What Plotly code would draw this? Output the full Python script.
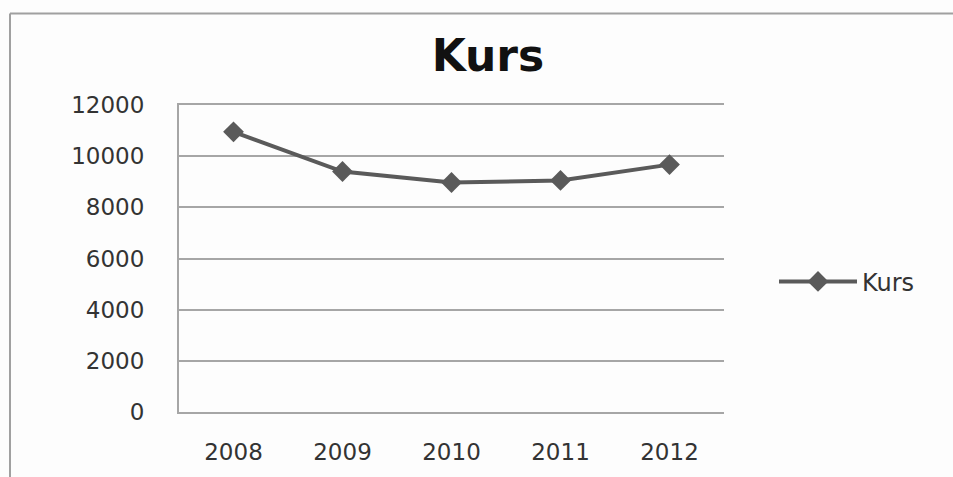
import plotly.graph_objects as go

years = ["2008", "2009", "2010", "2011", "2012"]
kurs = [10950, 9400, 8970, 9050, 9670]
y_ticks = [0, 2000, 4000, 6000, 8000, 10000, 12000]
y_labels = ["0", "2000", "4000", "6000", "8000", "10000", "12000"]

W, H = 953, 477
L, R, T, B = 179, 229, 105, 63
pw, ph = W - L - R, H - T - B

def px_x(x):
    return (x - L) / pw

def px_y(y):
    return (H - B - y) / ph

line_col = "#5a5a5a"
grid_col = "#a6a6a6"
text_col = "#333333"

fig = go.Figure()
fig.add_trace(go.Scatter(
    x=years, y=kurs, name="Kurs", mode="lines+markers",
    line=dict(color=line_col, width=4),
    marker=dict(symbol="diamond", size=16, color=line_col),
))

# outer chart frame (left and top edges)
frame = dict(type="line", xref="paper", yref="paper",
             line=dict(color="#a0a0a0", width=2))
fig.add_shape(**frame, x0=px_x(10), x1=px_x(10), y0=px_y(13), y1=px_y(H + 5))
fig.add_shape(**frame, x0=px_x(10), x1=px_x(W + 5), y0=px_y(13), y1=px_y(13))

fig.update_layout(
    width=W, height=H,
    margin=dict(l=L, r=R, t=T, b=B),
    paper_bgcolor="#fdfdfd", plot_bgcolor="#fdfdfd",
    font=dict(family="DejaVu Sans", color=text_col),
    title=dict(text="<b>Kurs</b>", x=488 / W, xanchor="center",
               y=1 - 56 / H, yanchor="middle",
               font=dict(size=44, color="#111111")),
    showlegend=True,
    legend=dict(x=px_x(774), xanchor="left", y=px_y(283), yanchor="middle",
                font=dict(size=24, color=text_col), itemwidth=78,
                bgcolor="rgba(0,0,0,0)"),
    xaxis=dict(type="category", range=[-0.5, 4.5], showgrid=False,
               showline=True, linecolor=grid_col, linewidth=2, mirror=True,
               ticks="outside", ticklen=18, tickcolor="rgba(0,0,0,0)",
               tickfont=dict(size=23, color=text_col)),
    yaxis=dict(range=[0, 12000], tickvals=y_ticks, ticktext=y_labels,
               showgrid=True, gridcolor=grid_col, gridwidth=1.5,
               showline=True, linecolor=grid_col, linewidth=2,
               zeroline=False,
               ticks="outside", ticklen=28, tickcolor="rgba(0,0,0,0)",
               tickfont=dict(size=23, color=text_col)),
)

fig.write_html("out.html")
